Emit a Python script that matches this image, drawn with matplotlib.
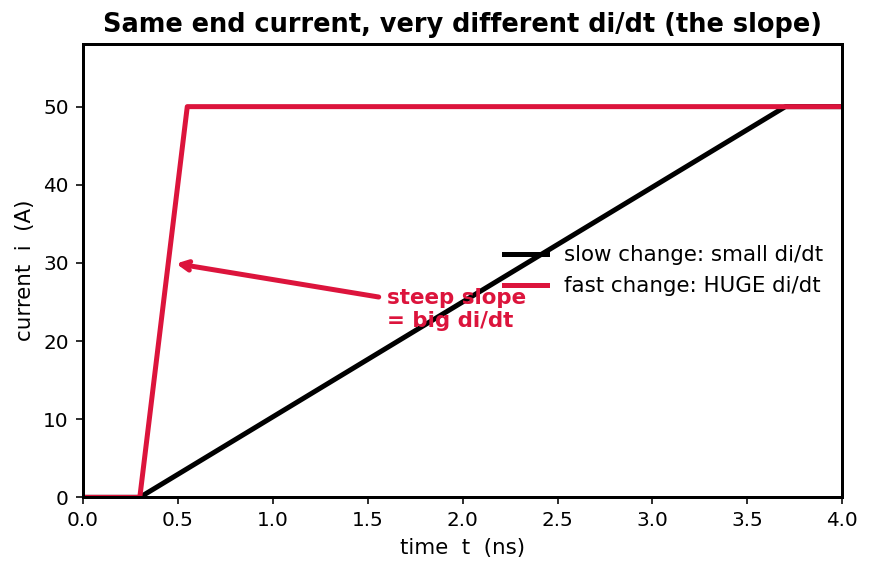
import matplotlib
matplotlib.use("Agg")
import matplotlib.pyplot as plt

# data
t_slow = [0.0, 0.3, 3.7, 4.0]
i_slow = [0, 0, 50, 50]
t_fast = [0.0, 0.3, 0.55, 4.0]
i_fast = [0, 0, 50, 50]

fig, ax = plt.subplots(figsize=(872 / 144, 573 / 144), dpi=144)

ax.plot(t_slow, i_slow, color="black", lw=2.5, label="slow change: small di/dt")
ax.plot(t_fast, i_fast, color="crimson", lw=2.5, label="fast change: HUGE di/dt")

ax.annotate("steep slope\n= big di/dt", xy=(0.47, 30), xytext=(1.6, 24),
            color="crimson", fontweight="bold", fontsize=10.7, va="center",
            arrowprops=dict(arrowstyle="->", color="crimson", lw=2.5))

ax.set_xlim(0, 4)
ax.set_ylim(0, 58)
ax.set_xlabel("time  t  (ns)", fontsize=10.7)
ax.set_ylabel("current  i  (A)", fontsize=10.7)
ax.set_title("Same end current, very different di/dt (the slope)",
             fontweight="bold", fontsize=12.8)
ax.tick_params(labelsize=10)
for s in ax.spines.values():
    s.set_linewidth(1.5)

ax.legend(loc="center right", frameon=False, fontsize=10.7)

fig.subplots_adjust(left=0.095, right=0.966, top=0.923, bottom=0.132)
fig.savefig("out.png", dpi=144)
